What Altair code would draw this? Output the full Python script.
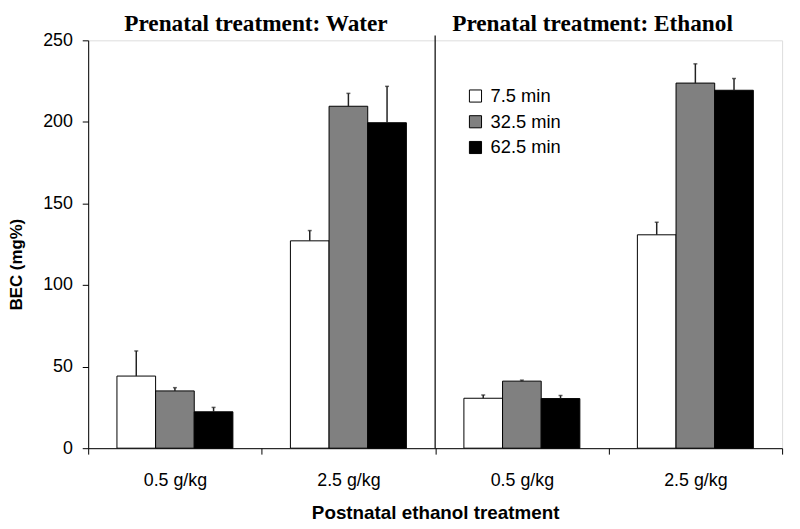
import altair as alt
import pandas as pd

groups = ["W0.5", "W2.5", "E0.5", "E2.5"]
times = ["7.5 min", "32.5 min", "62.5 min"]
colors = ["white", "#808080", "black"]

means_75 = [44.2, 127.1, 30.6, 130.8]
means_325 = [35.1, 209.6, 41.1, 223.8]
means_625 = [22.3, 199.5, 30.4, 219.4]
sem_75 = [15.4, 6.3, 2.0, 7.7]
sem_325 = [2.0, 7.9, 0.6, 11.8]
sem_625 = [2.7, 22.3, 1.9, 7.2]

panel_titles = ["Prenatal treatment: Water", "Prenatal treatment: Ethanol"]
divider_group = ["E0.5"]

rows = []
for t, ms, ss in zip(times, [means_75, means_325, means_625], [sem_75, sem_325, sem_625]):
    for g, m, s in zip(groups, ms, ss):
        rows.append({"group": g, "time": t, "mean": m, "upper": m + s})
df = pd.DataFrame(rows)

label_expr = ("datum.value == 'W0.5' || datum.value == 'E0.5' ? '0.5 g/kg' : "
              "(datum.value == 'W2.5' || datum.value == 'E2.5' ? '2.5 g/kg' : '')")

xscale = alt.Scale(domain=groups, paddingInner=0, paddingOuter=0)
xoff = alt.XOffset("time:N", sort=times, scale=alt.Scale(domain=times, paddingInner=0, paddingOuter=0.744))
yscale = alt.Scale(domain=[0, 250], nice=False)

x_enc = alt.X(
    "group:N", sort=groups, scale=xscale,
    axis=alt.Axis(
        labelExpr=label_expr, labelAngle=0, tickBand="extent", tickSize=6,
        labelFont="Liberation Sans", labelFontSize=18, labelColor="black",
        labelBaseline="alphabetic", labelPadding=32,
        title="Postnatal ethanol treatment", titleFont="Liberation Sans",
        titleFontSize=19, titleFontWeight="bold", titleColor="black",
        titleBaseline="alphabetic", titleY=71,
        domainColor="black", tickColor="black", grid=False,
    ),
)

y_enc = alt.Y(
    "mean:Q", scale=yscale,
    axis=alt.Axis(
        values=[0, 50, 100, 150, 200, 250], tickSize=6, labelPadding=10,
        labelFont="Liberation Sans", labelFontSize=18, labelColor="black",
        title="BEC (mg%)", titleFont="Liberation Sans", titleFontSize=17,
        titleFontWeight="bold", titleColor="black", titleX=-63, titleY=226,
        domainColor="black", tickColor="black", grid=False,
    ),
)

bars = alt.Chart(df).mark_bar(stroke="black", strokeWidth=1).encode(
    x=x_enc,
    xOffset=xoff,
    y=y_enc,
    color=alt.Color(
        "time:N", sort=times,
        scale=alt.Scale(domain=times, range=colors),
        legend=alt.Legend(
            title=None, orient="none", legendX=382, legendY=47,
            symbolType="square", symbolSize=150, symbolStrokeColor="black",
            symbolStrokeWidth=1, labelFont="Liberation Sans", labelFontSize=18.5,
            labelColor="black", rowPadding=7, labelOffset=6,
        ),
    ),
)

err = alt.Chart(df).mark_rule(color="#222", strokeWidth=1.5).encode(
    x=alt.X("group:N", sort=groups, scale=xscale),
    xOffset=xoff,
    y=alt.Y("mean:Q", scale=yscale),
    y2="upper:Q",
)

caps = alt.Chart(df).mark_tick(color="#222", orient="horizontal", size=4, thickness=1.5).encode(
    x=alt.X("group:N", sort=groups, scale=xscale),
    xOffset=xoff,
    y=alt.Y("upper:Q", scale=yscale),
)

divider = alt.Chart(pd.DataFrame({"group": divider_group})).mark_rule(color="black", strokeWidth=1.2).encode(
    x=alt.X("group:N", sort=groups, scale=xscale, bandPosition=0),
    y=alt.datum(0),
    y2=alt.datum(253),
)

title_w = alt.Chart(pd.DataFrame({"t": [panel_titles[0]]})).mark_text(
    font="Liberation Serif", fontSize=23.5, fontWeight="bold", color="black",
    baseline="alphabetic", align="center",
).encode(text="t:N", x=alt.value(169.5), y=alt.value(-9.5))

title_e = alt.Chart(pd.DataFrame({"t": [panel_titles[1]]})).mark_text(
    font="Liberation Serif", fontSize=23.5, fontWeight="bold", color="black",
    baseline="alphabetic", align="center",
).encode(text="t:N", x=alt.value(509.5), y=alt.value(-9.5))

chart = alt.layer(bars, err, caps, divider, title_w, title_e).properties(
    width=701, height=412,
    autosize=alt.AutoSizeParams(type="none"),
    padding={"left": 81, "top": 30, "right": 10, "bottom": 82},
).configure_view(stroke=None).configure(background="white")

chart.save("out.html", embed_options={"renderer": "svg", "actions": False})
